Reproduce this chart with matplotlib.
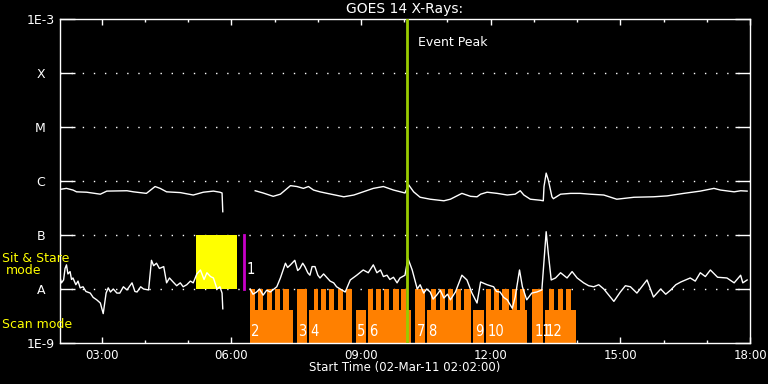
import matplotlib
matplotlib.use('Agg')
import matplotlib.pyplot as plt
import matplotlib.transforms as mtransforms
from matplotlib.ticker import MultipleLocator, FixedLocator
import numpy as np


def hours(s):
    h, m = s.split(':')
    return int(h) + int(m) / 60.0


# GOES 14, 1-8 A channel (upper curve); nan marks the data gap
long_times = ['02:02', '02:11', '02:20', '02:25', '02:39', '02:58', '03:07', '03:35', '03:44', '04:02',
              '04:14', '04:21', '04:30', '04:49', '05:07', '05:21', '05:35', '05:44', '05:47', '05:48',
              '06:10',
              '06:33', '06:44', '06:58', '07:08', '07:22', '07:31', '07:40', '07:47', '07:54', '08:03',
              '08:13', '08:36', '08:50', '09:17', '09:31', '09:45', '10:01', '10:06', '10:13', '10:22',
              '10:36', '10:55', '11:04', '11:20', '11:32', '11:41', '11:46', '11:55', '12:09', '12:23',
              '12:34', '12:41', '12:46', '12:55', '13:09', '13:13', '13:14', '13:17', '13:20', '13:25',
              '13:27', '13:37', '13:51', '14:04', '14:18', '14:37', '14:55', '15:19', '15:46', '16:05',
              '16:28', '16:51', '17:10', '17:19', '17:38', '17:47', '17:56']
long_flux = [7.0e-7, 7.3e-7, 6.8e-7, 6.3e-7, 6.2e-7, 5.7e-7, 6.5e-7, 6.6e-7, 6.3e-7, 5.9e-7,
             7.9e-7, 7.3e-7, 6.3e-7, 6.1e-7, 5.5e-7, 6.2e-7, 6.5e-7, 6.2e-7, 6.0e-7, 2.7e-7,
             np.nan,
             6.6e-7, 6.0e-7, 5.2e-7, 5.7e-7, 8.2e-7, 7.9e-7, 7.3e-7, 7.9e-7, 6.8e-7, 6.3e-7,
             5.9e-7, 5.1e-7, 5.5e-7, 7.3e-7, 7.9e-7, 6.8e-7, 6.0e-7, 8.5e-7, 6.3e-7, 5.0e-7,
             4.6e-7, 4.3e-7, 4.6e-7, 5.9e-7, 5.2e-7, 5.1e-7, 5.7e-7, 6.2e-7, 5.9e-7, 5.5e-7,
             5.7e-7, 6.6e-7, 5.5e-7, 4.6e-7, 4.4e-7, 4.3e-7, 7.9e-7, 1.4e-6, 1.04e-6, 5.1e-7,
             4.7e-7, 5.7e-7, 5.9e-7, 5.9e-7, 5.7e-7, 5.5e-7, 4.6e-7, 5.0e-7, 5.1e-7, 5.3e-7,
             5.9e-7, 6.5e-7, 7.3e-7, 6.8e-7, 6.3e-7, 6.6e-7, 6.5e-7]

# 0.5-4 A channel (lower curve)
short_times = ['02:02', '02:04', '02:07', '02:09', '02:11', '02:13', '02:16', '02:18', '02:20', '02:24',
               '02:27', '02:30', '02:34', '02:38', '02:44', '02:48', '02:53', '02:58',
               '03:02', '03:06', '03:09', '03:12', '03:16', '03:21', '03:25', '03:30', '03:35', '03:42',
               '03:46', '03:49', '03:54', '03:58', '04:05',
               '04:09', '04:12', '04:16', '04:20', '04:26', '04:30', '04:34', '04:39', '04:44', '04:49',
               '04:53', '04:58', '05:03', '05:07', '05:12', '05:17', '05:22', '05:26',
               '05:31', '05:35', '05:40', '05:44', '05:47', '05:48',
               '06:10',
               '06:26', '06:30', '06:35', '06:39', '06:44', '06:49', '06:54', '07:03', '07:08', '07:15',
               '07:18', '07:22', '07:28', '07:32', '07:35', '07:39',
               '07:42', '07:46', '07:49', '07:52', '07:56', '08:00', '08:03', '08:08', '08:13', '08:17',
               '08:22', '08:26', '08:31', '08:38', '08:45', '08:54',
               '09:03', '09:10', '09:17', '09:22', '09:27', '09:31', '09:36', '09:40', '09:45', '09:50',
               '09:54', '10:01', '10:05', '10:11',
               '10:18', '10:22', '10:27', '10:31', '10:36', '10:40', '10:45', '10:50', '10:55', '11:00',
               '11:04', '11:11', '11:20', '11:27', '11:34',
               '11:41', '11:46', '11:55', '12:04', '12:08', '12:13', '12:18', '12:23', '12:30', '12:34',
               '12:40', '12:44',
               '12:50', '12:57', '13:04', '13:11', '13:14', '13:17', '13:20', '13:24', '13:30', '13:37',
               '13:46', '13:53', '14:00', '14:09', '14:16', '14:23', '14:30', '14:37', '14:51', '15:00',
               '15:07', '15:14', '15:23',
               '15:37', '15:46', '15:56', '16:03', '16:10', '16:17', '16:24', '16:37', '16:44', '16:51',
               '16:58', '17:05', '17:15', '17:28',
               '17:38', '17:47', '17:50', '17:56']
short_flux = [1.65e-8, 1.3e-8, 1.47e-8, 2.4e-8, 2.8e-8, 1.9e-8, 2.1e-8, 1.5e-8, 1.6e-8, 1.2e-8,
              1.4e-8, 1.05e-8, 1.1e-8, 9.0e-9, 8.4e-9, 7.0e-9, 6.3e-9, 5.5e-9,
              3.5e-9, 8.4e-9, 1.05e-8, 8.8e-9, 1.0e-8, 8.4e-9, 8.4e-9, 1.1e-8, 9.6e-9, 1.3e-8,
              9.0e-9, 8.8e-9, 1.1e-8, 1.0e-8, 9.6e-9,
              3.4e-8, 2.7e-8, 3.0e-8, 2.4e-8, 2.6e-8, 1.3e-8, 1.6e-8, 1.35e-8, 1.15e-8, 1.3e-8,
              1.1e-8, 1.2e-8, 1.4e-8, 1.3e-8, 1.9e-8, 2.25e-8, 1.5e-8, 2.0e-8,
              1.7e-8, 1.6e-8, 1.0e-8, 1.1e-8, 8.4e-9, 4.3e-9,
              np.nan,
              1.0e-8, 8.0e-9, 8.8e-9, 1.0e-8, 7.7e-9, 9.5e-9, 8.8e-9, 1.1e-8, 1.6e-8, 3.0e-8,
              2.5e-8, 2.8e-8, 3.4e-8, 2.2e-8, 2.4e-8, 3.0e-8,
              2.6e-8, 2.0e-8, 1.8e-8, 2.6e-8, 2.6e-8, 1.8e-8, 1.6e-8, 1.9e-8, 1.6e-8, 1.4e-8,
              1.3e-8, 1.1e-8, 1.0e-8, 8.8e-9, 1.47e-8, 1.8e-8,
              2.25e-8, 2.0e-8, 2.8e-8, 2.0e-8, 2.25e-8, 1.7e-8, 1.8e-8, 1.5e-8, 1.65e-8, 1.3e-8,
              1.6e-8, 1.8e-8, 3.7e-8, 2.25e-8,
              1.0e-8, 1.2e-8, 8.4e-9, 1.0e-8, 8.8e-9, 6.5e-9, 7.7e-9, 9.5e-9, 6.8e-9, 8.0e-9,
              6.3e-9, 8.8e-9, 1.8e-8, 1.47e-8, 8.4e-9,
              5.5e-9, 1.35e-8, 1.2e-8, 1.1e-8, 9.0e-9, 8.8e-9, 7.0e-9, 6.3e-9, 4.4e-9, 7.1e-9,
              2.25e-8, 1.1e-8,
              6.3e-9, 8.4e-9, 8.8e-9, 9.6e-9, 3.4e-8, 1.15e-7, 4.5e-8, 1.47e-8, 1.6e-8, 2.0e-8,
              1.6e-8, 2.1e-8, 1.6e-8, 1.3e-8, 1.15e-8, 1.1e-8, 1.2e-8, 1.0e-8, 5.9e-9, 8.8e-9,
              1.15e-8, 1.1e-8, 8.4e-9,
              1.47e-8, 7.1e-9, 1.0e-8, 8.0e-9, 9.6e-9, 1.2e-8, 1.35e-8, 1.6e-8, 1.4e-8, 2.0e-8,
              1.7e-8, 2.25e-8, 1.65e-8, 1.6e-8,
              1.3e-8, 1.8e-8, 1.3e-8, 1.47e-8]

# observing timeline
stare_start, stare_end = '05:11', '06:08'
stare_marker = '06:18'
event_peak = '10:04'

scan_labels = ['2', '3', '4', '5', '6', '7', '8', '9', '10', '11', '12']
scan_start = ['06:26', '07:31', '07:48', '08:53', '09:10', '10:15', '10:32', '11:36', '11:54', '12:59', '13:15']
scan_end = ['07:26', '07:45', '08:48', '09:07', '10:10', '10:29', '11:32', '11:51', '12:51', '13:13', '13:58']
raster_start = ['06:26', '06:37', '06:50', '07:01', '07:12', '07:31', '07:54', '08:05', '08:16', '08:28',
                '08:39', '09:10', '09:21', '09:32', '09:45', '09:56', '10:15', '10:37', '10:49', '11:01',
                '11:12', '11:23', '11:54', '12:05', '12:16', '12:29', '12:40', '12:58', '13:21', '13:33',
                '13:45']
raster_end = ['06:33', '06:44', '06:57', '07:08', '07:20', '07:45', '08:00', '08:12', '08:23', '08:35',
              '08:48', '09:17', '09:28', '09:39', '09:52', '10:03', '10:29', '10:44', '10:56', '11:08',
              '11:19', '11:32', '12:01', '12:12', '12:25', '12:36', '12:47', '13:13', '13:28', '13:40',
              '13:52']

level_vals = [1e-9, 1e-8, 1e-7, 1e-6, 1e-5, 1e-4, 1e-3]
level_labels = ['1E-9', 'A', 'B', 'C', 'M', 'X', '1E-3']

ORANGE = '#ff8000'
YELLOW = '#ffff00'
MAGENTA = '#c800c8'
GREEN = '#99cc00'
WHITE = 'white'

plt.rcParams['font.family'] = 'DejaVu Sans'

fig = plt.figure(figsize=(7.68, 3.84), dpi=100, facecolor='black')
ax = fig.add_axes([60 / 768, 41 / 384, 690 / 768, 324 / 384])
ax.set_facecolor('black')
ax.set_yscale('log')
ax.set_ylim(1e-9, 1e-3)
ax.set_xlim(hours('02:02'), 18.0)

# scan mode bars
s0 = np.array([hours(t) for t in scan_start])
s1 = np.array([hours(t) for t in scan_end])
ax.bar(s0, 4.1e-9 - 1e-9, width=s1 - s0, bottom=1e-9, align='edge', color=ORANGE, lw=0, zorder=2)
r0 = np.array([hours(t) for t in raster_start])
r1 = np.array([hours(t) for t in raster_end])
ax.bar(r0, 1e-8 - 1e-9, width=r1 - r0, bottom=1e-9, align='edge', color=ORANGE, lw=0, zorder=2)
for lab, t in zip(scan_labels, s0):
    ax.text(t + 0.03, 1.6e-9, lab, color=WHITE, fontsize=10.5, fontstretch='condensed',
            ha='left', va='center', zorder=5)

# sit and stare block
ax.bar(hours(stare_start), 1e-7 - 1e-8, width=hours(stare_end) - hours(stare_start), bottom=1e-8,
       align='edge', color=YELLOW, lw=0, zorder=2)
ax.plot([hours(stare_marker)] * 2, [1e-8, 1e-7], color=MAGENTA, lw=2, zorder=3)
ax.text(hours(stare_marker) + 0.05, 2.25e-8, '1', color=WHITE, fontsize=10.5, fontstretch='condensed',
        ha='left', va='center', zorder=5)

# dotted class levels
for v in level_vals[1:-1]:
    ax.axhline(v, color=WHITE, lw=1, ls=(0, (1, 7)), zorder=1)

ax.plot([hours(t) for t in long_times], long_flux, color=WHITE, lw=1, zorder=4)
ax.plot([hours(t) for t in short_times], short_flux, color=WHITE, lw=1, zorder=4)

ax.axvline(hours(event_peak), color=GREEN, lw=2, zorder=6)
ax.text(hours(event_peak) + 0.25, 3.6e-4, 'Event Peak', color=WHITE, fontsize=9, ha='left', va='center')

# axes styling
for sp in ax.spines.values():
    sp.set_color(WHITE)
    sp.set_linewidth(1)
ax.yaxis.set_major_locator(FixedLocator(level_vals))
ax.yaxis.set_minor_locator(FixedLocator([]))
ax.set_yticklabels(level_labels)
ax.tick_params(axis='y', which='major', direction='in', length=11, width=1, left=True, right=True,
               colors=WHITE, labelsize=9, pad=4)
for lbl in ax.get_yticklabels():
    if len(lbl.get_text()) == 1:
        lbl.set_transform(lbl.get_transform() +
                          mtransforms.ScaledTranslation(-9 / 100, 0, fig.dpi_scale_trans))

ax.xaxis.set_major_locator(MultipleLocator(3))
ax.xaxis.set_minor_locator(MultipleLocator(1))
ax.set_xticks(ax.get_xticks())
ax.set_xticklabels(['%02d:00' % int(round(v)) for v in ax.get_xticks()])
ax.set_xlim(hours('02:02'), 18.0)
ax.tick_params(axis='x', which='major', direction='in', length=4.5, width=1, top=True, bottom=True,
               colors=WHITE, labelsize=8.5, pad=4)
ax.tick_params(axis='x', which='minor', direction='in', length=2.5, width=1, top=True, bottom=True,
               colors=WHITE)

fig.text(405 / 768, 1 - 9 / 384, 'GOES 14 X-Rays:', color=WHITE, fontsize=10, ha='center', va='center')
fig.text(405 / 768, 1 - 368 / 384, 'Start Time (02-Mar-11 02:02:00)', color=WHITE, fontsize=8.5,
         ha='center', va='center')
fig.text(2 / 768, 1 - 258 / 384, 'Sit & Stare', color=YELLOW, fontsize=9, ha='left', va='center')
fig.text(24 / 768, 1 - 271 / 384, 'mode', color=YELLOW, fontsize=9, ha='center', va='center')
fig.text(2 / 768, 1 - 324 / 384, 'Scan mode', color=YELLOW, fontsize=9, ha='left', va='center')

fig.savefig('out.png', dpi=100, facecolor='black')
